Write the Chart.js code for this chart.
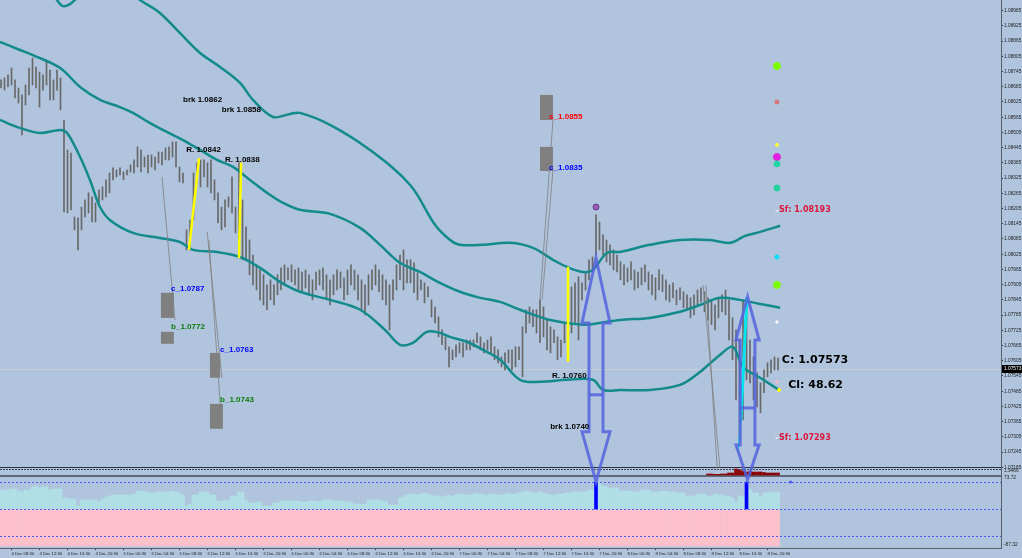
<!DOCTYPE html>
<html>
<head>
<meta charset="utf-8">
<script src="https://cdn.jsdelivr.net/npm/chart.js@4.4.1/dist/chart.umd.min.js"></script>
<style>
  html, body { margin: 0; padding: 0; background: #b0c4de; overflow: hidden; }
  canvas { display: block; }
</style>
</head>
<body>
<canvas id="c" width="1022" height="558"></canvas>
<script>
// 30 minute bars, bar 0 = 4 Dec 07:00
const highs = [
  1.08712,1.08720,1.08732,1.08759,1.08712,1.08680,1.08653,1.08692,1.08759,1.08798,
  1.08763,1.08743,1.08732,1.08783,1.08751,1.08712,1.08751,1.08720,1.08554,1.08436,
  1.08424,1.08172,1.08168,1.08211,1.08239,1.08267,1.08251,1.08227,1.08278,1.08290,
  1.08318,1.08345,1.08365,1.08357,1.08365,1.08349,1.08357,1.08377,1.08397,1.08448,
  1.08436,1.08408,1.08416,1.08416,1.08408,1.08428,1.08428,1.08444,1.08448,1.08468,
  1.08468,1.08369,1.08345,1.08121,1.08160,1.08345,1.08385,1.08397,1.08397,1.08385,
  1.08397,1.08318,1.08267,1.08211,1.08239,1.08251,1.08330,1.08211,1.08385,1.08239,
  1.08133,1.08081,1.08022,1.07983,1.07963,1.07944,1.07904,1.07924,1.07904,1.07944,
  1.07971,1.07983,1.07971,1.07983,1.07963,1.07971,1.07955,1.07963,1.07944,1.07924,
  1.07955,1.07963,1.07971,1.07944,1.07924,1.07944,1.07963,1.07955,1.07932,1.07963,
  1.07983,1.07963,1.07944,1.07924,1.07904,1.07944,1.07963,1.07983,1.07963,1.07944,
  1.07924,1.07904,1.07924,1.07983,1.08022,1.08042,1.08003,1.08003,1.07991,1.07951,
  1.07924,1.07912,1.07896,1.07845,1.07817,1.07778,1.07727,1.07699,1.07660,1.07648,
  1.07668,1.07676,1.07676,1.07687,1.07687,1.07687,1.07715,1.07699,1.07676,1.07687,
  1.07699,1.07660,1.07648,1.07620,1.07636,1.07648,1.07648,1.07660,1.07660,1.07739,
  1.07806,1.07817,1.07806,1.07806,1.07845,1.07817,1.07766,1.07739,1.07727,1.07699,
  1.07687,1.07754,1.07845,1.07896,1.07912,1.07936,1.07912,1.07951,1.08003,1.08014,
  1.08180,1.08152,1.08101,1.08081,1.08062,1.08042,1.08022,1.07995,1.07983,1.07971,
  1.07995,1.07963,1.07955,1.07971,1.07983,1.07955,1.07944,1.07932,1.07963,1.07944,
  1.07924,1.07904,1.07912,1.07884,1.07892,1.07877,1.07865,1.07853,1.07865,1.07884,
  1.07892,1.07877,1.07853,1.07845,1.07825,1.07853,1.07865,1.07884,1.07845,1.07774,
  1.07727,1.07687,1.07845,1.07853,1.07687,1.07620,1.07557,1.07518,1.07569,1.07597,
  1.07609,1.07620,1.07616
];
const lows = [
  1.08680,1.08672,1.08684,1.08692,1.08641,1.08621,1.08495,1.08613,1.08653,1.08692,
  1.08680,1.08605,1.08672,1.08692,1.08633,1.08633,1.08672,1.08594,1.08192,1.08188,
  1.08200,1.08121,1.08042,1.08121,1.08172,1.08188,1.08152,1.08152,1.08227,1.08239,
  1.08251,1.08267,1.08318,1.08330,1.08338,1.08318,1.08338,1.08349,1.08345,1.08369,
  1.08349,1.08369,1.08345,1.08369,1.08357,1.08385,1.08377,1.08397,1.08397,1.08408,
  1.08369,1.08310,1.08306,1.08042,1.08042,1.08160,1.08306,1.08290,1.08330,1.08290,
  1.08267,1.08239,1.08148,1.08121,1.08133,1.08211,1.08188,1.08109,1.08081,1.08003,
  1.08003,1.07944,1.07904,1.07884,1.07845,1.07825,1.07806,1.07845,1.07825,1.07865,
  1.07884,1.07904,1.07924,1.07916,1.07904,1.07884,1.07877,1.07892,1.07865,1.07845,
  1.07884,1.07904,1.07884,1.07845,1.07825,1.07865,1.07884,1.07892,1.07845,1.07865,
  1.07904,1.07884,1.07845,1.07806,1.07786,1.07825,1.07884,1.07904,1.07877,1.07845,
  1.07825,1.07727,1.07845,1.07884,1.07924,1.07884,1.07912,1.07912,1.07873,1.07845,
  1.07884,1.07833,1.07857,1.07778,1.07754,1.07699,1.07668,1.07648,1.07581,1.07609,
  1.07620,1.07636,1.07620,1.07648,1.07648,1.07660,1.07676,1.07648,1.07636,1.07648,
  1.07636,1.07609,1.07597,1.07581,1.07569,1.07597,1.07569,1.07581,1.07609,1.07542,
  1.07715,1.07754,1.07739,1.07715,1.07676,1.07699,1.07648,1.07636,1.07676,1.07609,
  1.07620,1.07676,1.07648,1.07715,1.07754,1.07687,1.07845,1.07884,1.07924,1.07963,
  1.08022,1.08042,1.08022,1.07995,1.07983,1.07963,1.07955,1.07924,1.07904,1.07916,
  1.07924,1.07884,1.07892,1.07904,1.07916,1.07884,1.07865,1.07845,1.07884,1.07877,
  1.07845,1.07837,1.07853,1.07825,1.07845,1.07814,1.07806,1.07774,1.07786,1.07825,
  1.07837,1.07798,1.07766,1.07747,1.07727,1.07774,1.07798,1.07786,1.07687,1.07609,
  1.07451,1.07293,1.07372,1.07530,1.07518,1.07451,1.07423,1.07400,1.07479,1.07542,
  1.07557,1.07569,1.07569
];
const lastClose = 1.07573;

// bands, sampled as [bar index, price]
const upperBand = [
  [11.1,1.09126],[16,1.09027],[17.7,1.09003],[19.7,1.09011],[21.7,1.09035],[28.3,1.09126],
  [35.4,1.09074],[39.7,1.09027],[45.4,1.08976],[51.1,1.08897],[56.9,1.08818],[62.6,1.08763],
  [68.3,1.08700],[72,1.08633],[77.7,1.08566],[82.6,1.08578],[85.4,1.08582],[94,1.08535],
  [105.4,1.08436],[116.9,1.08298],[124,1.08141],[128.3,1.08081],[131.1,1.08062],[137.7,1.08062],
  [145.4,1.08070],[152,1.08050],[157.7,1.08003],[161.7,1.07975],[166.3,1.07955],[169.1,1.07963],
  [173.1,1.08030],[176.9,1.08034],[185.4,1.08062],[194,1.08081],[202.6,1.08081],[208.3,1.08070],
  [212.6,1.08097],[216.9,1.08113],[222.6,1.08137]
];
const middleBand = [
  [-0.3,1.08862],[5.4,1.08830],[9.1,1.08810],[16.9,1.08759],[22.6,1.08684],[28.3,1.08633],
  [34,1.08605],[37.7,1.08582],[42.6,1.08542],[47.4,1.08507],[52,1.08475],[56.9,1.08436],
  [61.7,1.08397],[66.3,1.08369],[71.1,1.08318],[76,1.08267],[80.6,1.08227],[85.4,1.08200],
  [94,1.08184],[102.6,1.08129],[108.3,1.08062],[114,1.07991],[119.7,1.07955],[125.4,1.07912],
  [131.1,1.07877],[136.9,1.07853],[142.6,1.07837],[148.3,1.07806],[156.9,1.07766],[166.3,1.07747],
  [171.1,1.07754],[176.9,1.07766],[185.4,1.07774],[194,1.07798],[199.7,1.07825],[205.4,1.07853],
  [211.1,1.07845],[216.9,1.07829],[222.6,1.07814]
];
const lowerBand = [
  [-0.3,1.08554],[5.4,1.08523],[11.1,1.08503],[16.9,1.08515],[18.9,1.08503],[22.6,1.08408],
  [25.4,1.08318],[28.3,1.08211],[31.1,1.08160],[37.7,1.08109],[45.4,1.08089],[51.1,1.08073],
  [54.9,1.08042],[61.7,1.08034],[68.3,1.08014],[74,1.07971],[79.7,1.07916],[85.4,1.07877],
  [94,1.07845],[102.6,1.07806],[109.7,1.07727],[114,1.07668],[117.7,1.07676],[121.7,1.07719],
  [125.4,1.07715],[128.3,1.07699],[133.1,1.07680],[137.7,1.07648],[142.6,1.07609],[148.3,1.07530],
  [154,1.07522],[161.7,1.07530],[169.1,1.07530],[172,1.07490],[176.9,1.07490],[185.4,1.07490],
  [194,1.07510],[199.7,1.07561],[205.4,1.07628],[209.1,1.07660],[212,1.07581],[216.9,1.07538],
  [222.3,1.07490]
];

// oscillator window
const oscUp = [
  29.6,29.6,29.6,31.1,31.1,28.0,26.5,29.6,29.6,
  34.2,35.8,32.7,34.2,34.2,29.6,31.1,31.1,31.1,
  17.1,17.1,15.6,15.6,4.7,14.0,14.0,14.0,14.0,14.0,10.9,
  15.6,18.7,20.2,21.8,21.8,21.8,21.8,21.8,21.8,23.3,
  28.0,28.0,26.5,26.5,24.9,24.9,26.5,26.5,26.5,26.5,28.0,26.5,
  24.9,21.8,4.7,7.8,21.8,21.8,26.5,26.5,26.5,21.8,21.8,
  12.4,12.4,14.0,14.0,20.2,20.2,26.5,26.5,14.0,
  9.3,9.3,10.9,10.9,4.7,4.7,4.7,9.3,9.3,
  12.4,12.4,12.4,12.4,12.4,12.4,10.9,10.9,12.4,12.4,12.4,10.9,
  14.0,14.0,14.0,12.4,12.4,12.4,12.4,10.9,10.9,
  7.8,7.8,7.8,7.8,14.0,14.0,14.0,14.0,12.4,12.4,6.2,6.2,6.2,17.1,
  18.7,21.8,23.3,23.3,21.8,23.3,24.9,23.3,21.8,20.2,20.2,18.7,20.2,21.8,20.2,21.8,23.3,23.3,
  21.8,21.8,23.3,24.9,23.3,21.8,21.8,23.3,23.3,21.8,21.8,23.3,24.9,23.3,23.3,24.9,26.5,28.0,
  26.5,24.9,24.9,26.5,24.9,23.3,21.8,21.8,23.3,23.3,24.9,24.9,26.5,26.5,26.5,26.5,26.5,29.6,29.6,
  40.5,40.5,35.8,34.2,32.7,32.7,32.7,28.0,28.0,28.0,28.0,26.5,26.5,
  29.6,29.6,29.6,26.5,26.5,26.5,28.0,28.0,26.5,26.5,24.9,24.9,24.9,
  20.2,20.2,20.2,23.3,23.3,23.3,20.2,20.2,23.3,21.8,21.8,20.2,20.2,17.1,10.9,
  20.2,20.2,31.1,31.1,24.9,24.9,18.7,24.9,24.9,26.5,26.5,26.5
];
const oscFloor = -57.6;
const signalIdx = [170, 213];
const signalVals = [42, 42];
const oscLevels = [42, 0, -42];

// small histogram window, from bar 202
const miniStart = 202;
const miniVals = [1,1,0.7,0.7,1,1,2,2,6,5,4,3,3.5,3,3,3,2.5,2,2,2,2];

const tickLabels = [
  '4 Dec 08:30','4 Dec 12:30','4 Dec 16:30','4 Dec 20:30','5 Dec 00:30','5 Dec 04:30','5 Dec 08:30',
  '5 Dec 12:30','5 Dec 16:30','5 Dec 20:30','6 Dec 00:30','6 Dec 04:30','6 Dec 08:30','6 Dec 12:30',
  '6 Dec 16:30','6 Dec 20:30','7 Dec 00:30','7 Dec 04:30','7 Dec 08:30','7 Dec 12:30','7 Dec 16:30',
  '7 Dec 20:30','8 Dec 00:30','8 Dec 04:30','8 Dec 08:30','8 Dec 12:30','8 Dec 16:30','8 Dec 20:30'
];
const tickIdx = tickLabels.map((_, k) => 3 + 8 * k);
const priceTicks = [
  1.08985,1.08925,1.08865,1.08805,1.08745,1.08685,1.08625,1.08565,1.08505,1.08445,1.08385,
  1.08325,1.08265,1.08205,1.08145,1.08085,1.08025,1.07965,1.07905,1.07845,1.07785,1.07725,
  1.07665,1.07605,1.07545,1.07485,1.07425,1.07365,1.07305,1.07245,1.07185
];

// markers at the right edge
const dotIdx = [221.7,221.7,221.7,221.7,221.7,221.7,221.7,221.7,221.7,221.7,221.7,221.7,222.3,170];
const dotPrices = [1.08767,1.08625,1.08456,1.08408,1.08381,1.08286,1.08196,1.08014,1.07904,1.07758,1.07522,1.07301,1.07490,1.08211];
const dotColors = ['#7cfc00','#d9737a','#ffff33','#e21ee2','#1fd6a4','#22d3a0','#ffffff','#00e0ff','#7cfc00','#f4f4f4','#f2b8c6','#ffffff','#ffff00','#9a5bb8'];

// chart objects: [text, bar index, price, colour, font]
const labels = [
  ['brk 1.0862', 52.0, 1.08633, '#000', 'bold 8px "Liberation Sans"'],
  ['brk 1.0858', 63.1, 1.08593, '#000', 'bold 8px "Liberation Sans"'],
  ['R. 1.0842', 52.9, 1.08436, '#000', 'bold 8px "Liberation Sans"'],
  ['R. 1.0838', 64.0, 1.08396, '#000', 'bold 8px "Liberation Sans"'],
  ['c_1.0787', 48.6, 1.07888, '#0000ff', 'bold 8px "Liberation Sans"'],
  ['b_1.0772', 48.6, 1.07738, '#0b7d0b', 'bold 8px "Liberation Sans"'],
  ['c_1.0763', 62.6, 1.07648, '#0000ff', 'bold 8px "Liberation Sans"'],
  ['b_1.0743', 62.6, 1.07451, '#0b7d0b', 'bold 8px "Liberation Sans"'],
  ['s_1.0855', 156.6, 1.08566, '#ff0000', 'bold 8px "Liberation Sans"'],
  ['c_1.0835', 156.6, 1.08365, '#0000ff', 'bold 8px "Liberation Sans"'],
  ['R. 1.0760', 157.4, 1.07545, '#000', 'bold 8px "Liberation Sans"'],
  ['brk 1.0740', 156.9, 1.07344, '#000', 'bold 8px "Liberation Sans"'],
  ['C: 1.07573', 223.1, 1.07608, '#000', 'bold 11px "DejaVu Sans"'],
  ['Cl: 48.62', 224.9, 1.07510, '#000', 'bold 11px "DejaVu Sans"'],
  ['Sf: 1.08193', 222.3, 1.08199, '#dc143c', 'bold 8px "DejaVu Sans"'],
  ['Sf: 1.07293', 222.3, 1.07301, '#dc143c', 'bold 8px "DejaVu Sans"']
];
const boxes = [
  [45.7, 49.4, 1.07873, 1.07774], [45.7, 49.4, 1.07719, 1.07672],
  [59.7, 62.6, 1.07636, 1.07538], [59.7, 63.4, 1.07435, 1.07337],
  [154, 157.7, 1.08653, 1.08554], [154, 157.7, 1.08448, 1.08353]
];
const greyLines = [
  [46.0, 1.08330, 49.7, 1.07766], [58.9, 1.08113, 63.1, 1.07538], [59.4, 1.08081, 63.1, 1.07341],
  [157.7, 1.08554, 154, 1.07845], [157.7, 1.08357, 154.6, 1.07845],
  [200.6, 1.07904, 205.4, 1.07183], [201.4, 1.07904, 204.6, 1.07183]
];
const yellowLines = [
  [53.7, 1.08042, 56.6, 1.08404], [68.6, 1.08385, 68.0, 1.08010], [162, 1.07975, 162, 1.07601]
];
const arrows = [
  { i: 170, head: 4, shaft: 2, top: 1.08010, headTop: 1.07754, mid: 1.07471, headBot: 1.07325, bot: 1.07128 },
  { i: 213.3, head: 3.3, shaft: 2.1, top: 1.07857, headTop: 1.07687, mid: 1.07419, headBot: 1.07273, bot: 1.07136 }
];

const fontPrice = { family: '"Liberation Sans", Arial, sans-serif', size: 4.8 };
const fontTime = { family: '"Liberation Sans", Arial, sans-serif', size: 4.2 };

// keep the plot area flush with the canvas edges
function noPad(s) {
  s.paddingLeft = 0; s.paddingRight = 0; s.paddingTop = 0; s.paddingBottom = 0;
}

const overlay = {
  id: 'overlay',
  beforeDraw(chart) {
    const c = chart.ctx;
    c.save();
    c.fillStyle = '#b0c4de';
    c.fillRect(0, 0, chart.width, chart.height);
    c.restore();
  },
  beforeDatasetsDraw(chart) {
    const { ctx: c, chartArea: a, scales: { y } } = chart;
    c.save();
    const yc = Math.round(y.getPixelForValue(lastClose)) + 0.5;
    c.strokeStyle = '#c9cfd8';
    c.lineWidth = 1;
    c.beginPath(); c.moveTo(a.left, yc); c.lineTo(a.right, yc); c.stroke();
    // window separators
    c.strokeStyle = '#2b2f38';
    c.beginPath(); c.moveTo(a.left, 467.5); c.lineTo(a.right, 467.5); c.stroke();
    c.setLineDash([2, 1]);
    c.strokeStyle = '#3a4260';
    c.beginPath(); c.moveTo(a.left, 469.5); c.lineTo(a.right, 469.5); c.stroke();
    c.setLineDash([]);
    c.strokeStyle = '#5d6878';
    c.lineWidth = 2;
    c.beginPath(); c.moveTo(a.left, 476); c.lineTo(a.right, 476); c.stroke();
    c.restore();
  },
  afterDatasetsDraw(chart) {
    const { ctx: c, chartArea: a, scales: { x, y, o } } = chart;
    const X = v => x.getPixelForValue(v);
    const Y = v => y.getPixelForValue(v);
    c.save();

    // oscillator levels
    c.strokeStyle = '#4a5cf0';
    c.lineWidth = 1;
    c.setLineDash([2, 2]);
    oscLevels.forEach(v => {
      const py = Math.round(o.getPixelForValue(v)) + 0.5;
      c.beginPath(); c.moveTo(a.left, py); c.lineTo(a.right, py); c.stroke();
    });
    c.setLineDash([]);

    // grey boxes and their lines
    c.fillStyle = '#808080';
    boxes.forEach(b => {
      c.fillRect(X(b[0]), Y(b[2]), X(b[1]) - X(b[0]), Y(b[3]) - Y(b[2]));
    });
    c.strokeStyle = 'rgba(128,128,128,0.8)';
    c.lineWidth = 1;
    greyLines.forEach(l => {
      c.beginPath(); c.moveTo(X(l[0]), Y(l[1])); c.lineTo(X(l[2]), Y(l[3])); c.stroke();
    });

    // yellow swings
    c.strokeStyle = '#ffff00';
    c.lineWidth = 2.5;
    yellowLines.forEach(l => {
      c.beginPath(); c.moveTo(X(l[0]), Y(l[1])); c.lineTo(X(l[2]), Y(l[3])); c.stroke();
    });

    // cyan move
    c.strokeStyle = '#00e5ee';
    c.lineWidth = 3;
    c.beginPath(); c.moveTo(X(213.1), Y(1.07853)); c.lineTo(X(211.4), Y(1.07372)); c.stroke();
    c.lineWidth = 1.5;
    c.beginPath(); c.moveTo(X(211.4), Y(1.07372)); c.lineTo(X(210.6), Y(1.07249)); c.stroke();

    // double arrows
    c.strokeStyle = 'rgba(84,100,222,0.85)';
    c.lineWidth = 3;
    c.lineJoin = 'miter';
    arrows.forEach(r => {
      const cx = X(r.i), xl = X(r.i - r.head), xr = X(r.i + r.head);
      const sl = X(r.i - r.shaft), sr = X(r.i + r.shaft);
      const yt = Y(r.top), y1 = Y(r.headTop), ym = Y(r.mid), y2 = Y(r.headBot), yb = Y(r.bot);
      c.beginPath();
      c.moveTo(cx, yt); c.lineTo(xr, y1); c.lineTo(sr, y1); c.lineTo(sr, y2); c.lineTo(xr, y2);
      c.lineTo(cx, yb); c.lineTo(xl, y2); c.lineTo(sl, y2); c.lineTo(sl, y1); c.lineTo(xl, y1);
      c.closePath(); c.stroke();
      c.beginPath(); c.moveTo(sl, ym); c.lineTo(sr, ym); c.stroke();
    });

    // text objects
    c.textAlign = 'left';
    c.textBaseline = 'middle';
    labels.forEach(t => {
      c.font = t[4];
      c.fillStyle = t[3];
      c.fillText(t[0], X(t[1]), Y(t[2]));
    });

    // current price tag on the axis
    const yc = Math.round(Y(lastClose));
    c.fillStyle = '#000';
    c.fillRect(a.right + 1, yc - 4, 21, 8);
    c.fillStyle = '#fff';
    c.font = '4.8px "Liberation Sans"';
    c.fillText(lastClose.toFixed(5), a.right + 3, yc);

    // window scale edges
    c.fillStyle = '#222';
    c.fillText('1.9466', a.right + 3, 471);
    c.fillText('73.72', a.right + 3, 478);
    c.fillText('-87.32', a.right + 3, 545);
    // dot in the oscillator window
    c.fillStyle = '#4a5cf0';
    c.beginPath(); c.arc(X(225.6), o.getPixelForValue(42), 1.5, 0, Math.PI * 2); c.fill();
    c.restore();
  }
};

new Chart(document.getElementById('c'), {
  type: 'bar',
  data: {
    datasets: [
      {
        type: 'scatter', label: 'marks', order: 0, yAxisID: 'y',
        data: dotIdx.map((v, k) => ({ x: v, y: dotPrices[k] })),
        pointBackgroundColor: dotColors,
        pointBorderColor: dotColors.map((col, k) => k === dotColors.length - 1 ? '#6b3a8f' : col),
        pointBorderWidth: 1,
        pointRadius: [3.5, 2.5, 1.5, 3.5, 3, 3, 1.5, 2, 3.5, 1.5, 1.5, 1.5, 1.5, 3],
        pointStyle: ['circle', 'rect', 'circle', 'circle', 'circle', 'circle', 'line', 'circle', 'circle', 'rect', 'rect', 'line', 'circle', 'circle']
      },
      {
        type: 'line', label: 'upper', order: 1, yAxisID: 'y',
        data: upperBand.map(p => ({ x: p[0], y: p[1] })),
        borderColor: '#138a8c', borderWidth: 2.5, pointRadius: 0, tension: 0.35
      },
      {
        type: 'line', label: 'middle', order: 1, yAxisID: 'y',
        data: middleBand.map(p => ({ x: p[0], y: p[1] })),
        borderColor: '#138a8c', borderWidth: 2.5, pointRadius: 0, tension: 0.35
      },
      {
        type: 'line', label: 'lower', order: 1, yAxisID: 'y',
        data: lowerBand.map(p => ({ x: p[0], y: p[1] })),
        borderColor: '#138a8c', borderWidth: 2.5, pointRadius: 0, tension: 0.35
      },
      {
        label: 'price', order: 2, yAxisID: 'y', grouped: false, barThickness: 1,
        data: highs.map((h, i) => ({ x: i, y: [lows[i], h] })),
        backgroundColor: '#686868'
      },
      {
        label: 'signal', order: 3, yAxisID: 'o', grouped: false, barThickness: 3,
        data: signalIdx.map((v, k) => ({ x: v, y: signalVals[k] })),
        backgroundColor: '#0000ff'
      },
      {
        label: 'mini', order: 3, yAxisID: 'm', grouped: false, barThickness: 3,
        data: miniVals.map((v, k) => ({ x: miniStart + k, y: v })),
        backgroundColor: '#8b0000'
      },
      {
        label: 'osc up', order: 4, yAxisID: 'o', grouped: false, barThickness: 3,
        data: oscUp.map((v, i) => ({ x: i, y: v })),
        backgroundColor: '#b0e0e6'
      },
      {
        label: 'osc down', order: 5, yAxisID: 'o', grouped: false, barThickness: 3,
        data: oscUp.map((v, i) => ({ x: i, y: oscFloor })),
        backgroundColor: '#ffc0cb'
      }
    ]
  },
  options: {
    responsive: false,
    animation: false,
    devicePixelRatio: 1,
    events: [],
    layout: { padding: 0, autoPadding: false },
    plugins: { legend: { display: false }, tooltip: { enabled: false } },
    scales: {
      x: {
        type: 'linear', position: 'bottom', min: -0.286, max: 285.71, offset: false,
        afterFit: s => { s.height = 10; noPad(s); },
        afterBuildTicks: s => { s.ticks = tickIdx.map(v => ({ value: v })); },
        grid: { drawOnChartArea: false, offset: false, tickLength: 2, color: '#333' },
        border: { color: '#58606e', width: 1 },
        ticks: {
          autoSkip: false, maxRotation: 0, align: 'start', padding: 1, color: '#1c1c1c', font: fontTime,
          callback: (v, k) => tickLabels[k]
        }
      },
      y: {
        position: 'right', weight: 1, min: 1.06867, max: 1.09027,
        afterFit: s => { s.width = 21; noPad(s); },
        afterBuildTicks: s => { s.ticks = priceTicks.map(v => ({ value: v })); },
        grid: { drawOnChartArea: false, tickLength: 2, color: '#333' },
        border: { color: '#58606e', width: 1 },
        ticks: { autoSkip: false, padding: 1, color: '#1c1c1c', font: fontPrice, callback: v => v.toFixed(5) }
      },
      o: {
        position: 'right', weight: 0, min: -60.7, max: 792,
        afterFit: s => { s.width = 0; noPad(s); },
        afterBuildTicks: s => { s.ticks = oscLevels.map(v => ({ value: v })); },
        grid: { display: false, drawTicks: false },
        border: { display: false },
        ticks: { autoSkip: false, padding: 3, color: '#1c1c1c', font: fontPrice, callback: v => v === 0 ? '0.00' : String(v) }
      },
      m: { display: false, position: 'right', min: -73, max: 475, afterFit: noPad }
    }
  },
  plugins: [overlay]
});
</script>
</body>
</html>
